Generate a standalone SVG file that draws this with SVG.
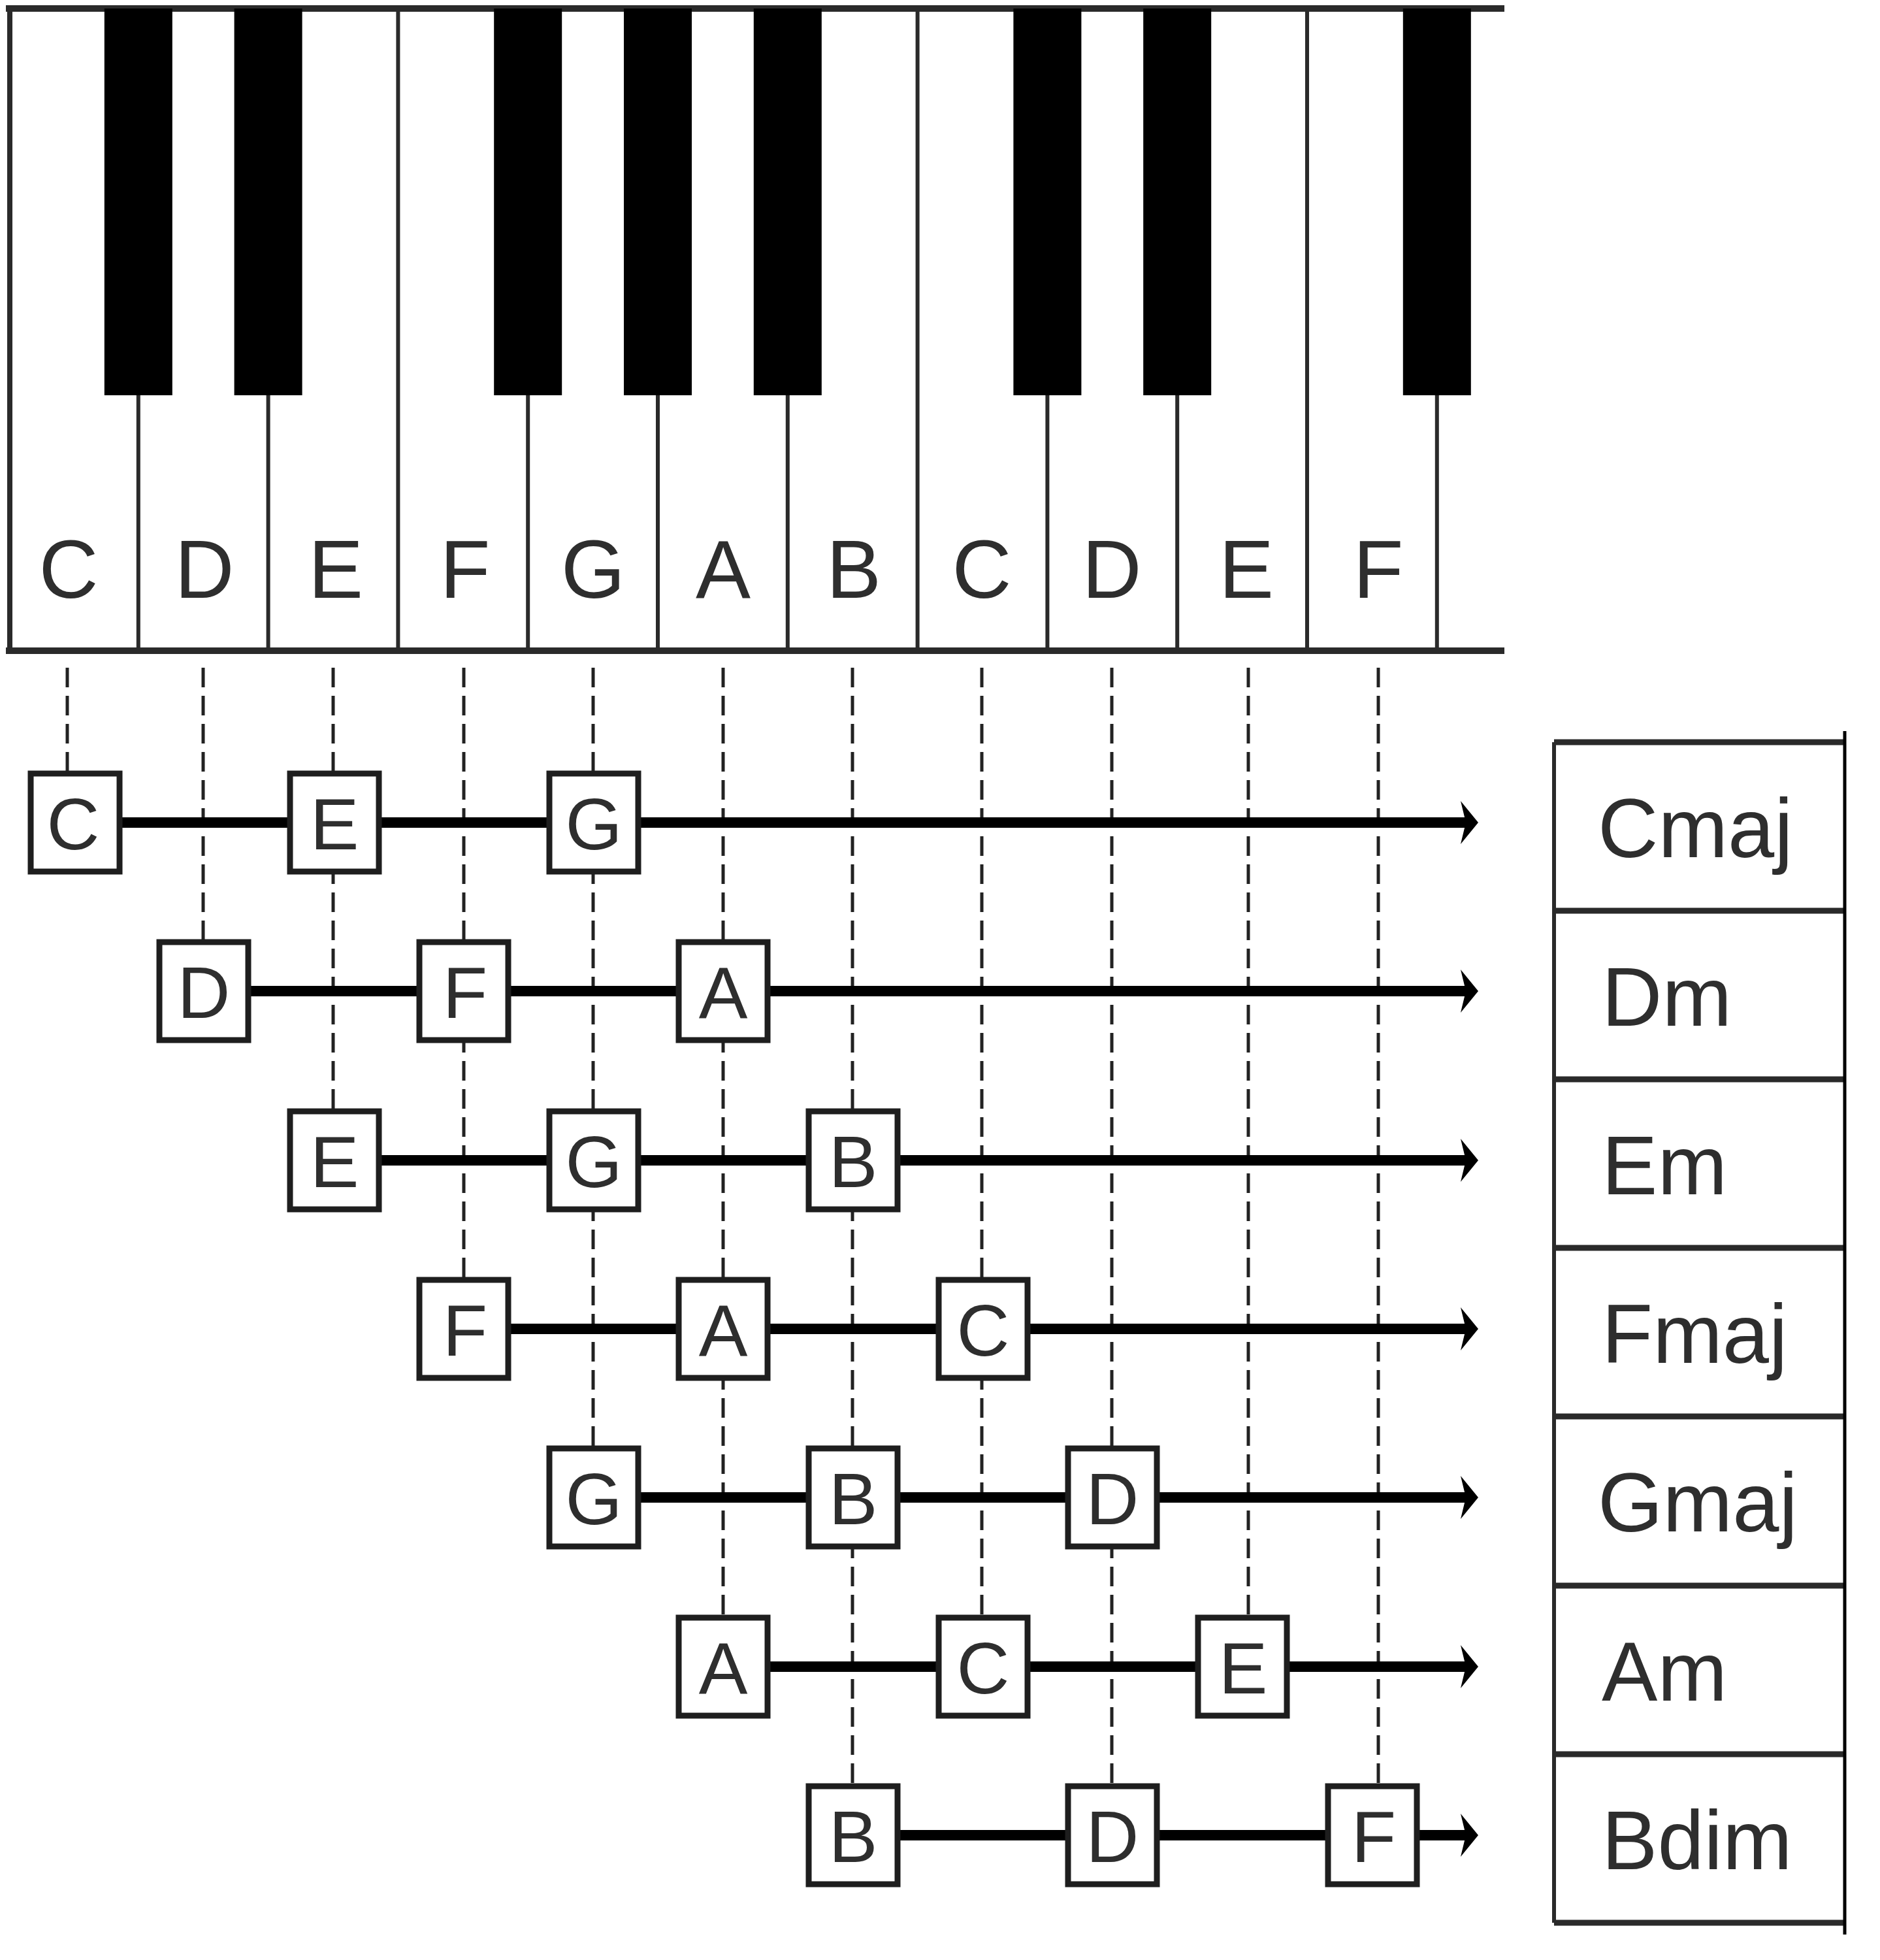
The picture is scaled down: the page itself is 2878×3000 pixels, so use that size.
<svg xmlns="http://www.w3.org/2000/svg" width="2878" height="3000" viewBox="0 0 2878 3000">
<style>
.bg{fill:#fff}
.frame{stroke:#2a2a2a;stroke-width:10;fill:none;stroke-linecap:square}
.div{stroke:#2a2a2a;stroke-width:6;fill:none}
.black{fill:#000}
.klbl{font-family:"Liberation Sans",Arial,sans-serif;font-size:126px;fill:#2e2e2e;text-anchor:middle}
.dash{stroke:#222;stroke-width:5;stroke-dasharray:30 13;fill:none}
.solid{stroke:#000;stroke-width:16;fill:none}
.head{fill:#000}
.box rect{fill:#fff;stroke:#1e1e1e;stroke-width:9}
.box text{font-family:"Liberation Sans",Arial,sans-serif;font-size:112px;fill:#2e2e2e;text-anchor:middle}
.hl{stroke:#2a2a2a;stroke-width:9;fill:none}
.cl{font-family:"Liberation Sans",Arial,sans-serif;font-size:128px;fill:#2e2e2e}
</style>
<rect class="bg" x="0" y="0" width="2878" height="3000"/>

<g id="keyboard">
  <line class="div" x1="211.8" y1="13" x2="211.8" y2="996"/>
  <line class="div" x1="410.6" y1="13" x2="410.6" y2="996"/>
  <line class="div" x1="609.4" y1="13" x2="609.4" y2="996"/>
  <line class="div" x1="808.2" y1="13" x2="808.2" y2="996"/>
  <line class="div" x1="1007" y1="13" x2="1007" y2="996"/>
  <line class="div" x1="1205.8" y1="13" x2="1205.8" y2="996"/>
  <line class="div" x1="1404.6" y1="13" x2="1404.6" y2="996"/>
  <line class="div" x1="1603.4" y1="13" x2="1603.4" y2="996"/>
  <line class="div" x1="1802.2" y1="13" x2="1802.2" y2="996"/>
  <line class="div" x1="2001" y1="13" x2="2001" y2="996"/>
  <line class="div" x1="2199.8" y1="13" x2="2199.8" y2="996"/>
  <line class="frame" x1="14" y1="13" x2="2298" y2="13"/>
  <line class="frame" x1="14" y1="996" x2="2298" y2="996"/>
  <line class="div" x1="15" y1="13" x2="15" y2="996" style="stroke-width:8"/>
  <rect class="black" x="159.8" y="13" width="104" height="592"/>
  <rect class="black" x="358.6" y="13" width="104" height="592"/>
  <rect class="black" x="756.2" y="13" width="104" height="592"/>
  <rect class="black" x="955" y="13" width="104" height="592"/>
  <rect class="black" x="1153.8" y="13" width="104" height="592"/>
  <rect class="black" x="1551.4" y="13" width="104" height="592"/>
  <rect class="black" x="1750.2" y="13" width="104" height="592"/>
  <rect class="black" x="2147.8" y="13" width="104" height="592"/>
  <text class="klbl" x="105" y="915">C</text>
  <text class="klbl" x="313" y="915">D</text>
  <text class="klbl" x="514" y="915">E</text>
  <text class="klbl" x="712" y="915">F</text>
  <text class="klbl" x="908" y="915">G</text>
  <text class="klbl" x="1107" y="915">A</text>
  <text class="klbl" x="1307" y="915">B</text>
  <text class="klbl" x="1503" y="915">C</text>
  <text class="klbl" x="1702" y="915">D</text>
  <text class="klbl" x="1908" y="915">E</text>
  <text class="klbl" x="2110" y="915">F</text>
</g>

<g id="connectors">
  <line class="dash" x1="103" y1="1022" x2="103" y2="1180"/>
  <line class="dash" x1="311" y1="1022" x2="311" y2="1438"/>
  <line class="dash" x1="510" y1="1022" x2="510" y2="1697"/>
  <line class="dash" x1="710" y1="1022" x2="710" y2="1955"/>
  <line class="dash" x1="908" y1="1022" x2="908" y2="2213"/>
  <line class="dash" x1="1107" y1="1022" x2="1107" y2="2472"/>
  <line class="dash" x1="1305" y1="1022" x2="1305" y2="2730"/>
  <line class="dash" x1="1503" y1="1022" x2="1503" y2="2472"/>
  <line class="dash" x1="1702" y1="1022" x2="1702" y2="2730"/>
  <line class="dash" x1="1911" y1="1022" x2="1911" y2="2472"/>
  <line class="dash" x1="2110" y1="1022" x2="2110" y2="2730"/>

  <line class="solid" x1="115" y1="1259" x2="2246" y2="1259"/>
  <polygon class="head" points="2236,1226 2263,1259 2236,1292 2244,1259"/>
  <line class="solid" x1="312" y1="1517" x2="2246" y2="1517"/>
  <polygon class="head" points="2236,1484 2263,1517 2236,1550 2244,1517"/>
  <line class="solid" x1="512" y1="1776" x2="2246" y2="1776"/>
  <polygon class="head" points="2236,1743 2263,1776 2236,1809 2244,1776"/>
  <line class="solid" x1="710" y1="2034" x2="2246" y2="2034"/>
  <polygon class="head" points="2236,2001 2263,2034 2236,2067 2244,2034"/>
  <line class="solid" x1="909" y1="2292" x2="2246" y2="2292"/>
  <polygon class="head" points="2236,2259 2263,2292 2236,2325 2244,2292"/>
  <line class="solid" x1="1107" y1="2551" x2="2246" y2="2551"/>
  <polygon class="head" points="2236,2518 2263,2551 2236,2584 2244,2551"/>
  <line class="solid" x1="1306" y1="2809" x2="2246" y2="2809"/>
  <polygon class="head" points="2236,2776 2263,2809 2236,2842 2244,2809"/>
</g>

<g id="row-cmaj">
  <g id="n-0-C" class="box"><rect x="47" y="1184" width="136" height="150"/><text x="112" y="1300">C</text></g>
  <g id="n-0-E" class="box"><rect x="444" y="1184" width="136" height="150"/><text x="512" y="1300">E</text></g>
  <g id="n-0-G" class="box"><rect x="841" y="1184" width="136" height="150"/><text x="909" y="1300">G</text></g>
</g>
<g id="row-dm">
  <g id="n-1-D" class="box"><rect x="244" y="1442" width="136" height="150"/><text x="312" y="1558">D</text></g>
  <g id="n-1-F" class="box"><rect x="642" y="1442" width="136" height="150"/><text x="712" y="1558">F</text></g>
  <g id="n-1-A" class="box"><rect x="1039" y="1442" width="136" height="150"/><text x="1107" y="1558">A</text></g>
</g>
<g id="row-em">
  <g id="n-2-E" class="box"><rect x="444" y="1701" width="136" height="150"/><text x="512" y="1817">E</text></g>
  <g id="n-2-G" class="box"><rect x="841" y="1701" width="136" height="150"/><text x="909" y="1817">G</text></g>
  <g id="n-2-B" class="box"><rect x="1238" y="1701" width="136" height="150"/><text x="1306" y="1817">B</text></g>
</g>
<g id="row-fmaj">
  <g id="n-3-F" class="box"><rect x="642" y="1959" width="136" height="150"/><text x="712" y="2075">F</text></g>
  <g id="n-3-A" class="box"><rect x="1039" y="1959" width="136" height="150"/><text x="1107" y="2075">A</text></g>
  <g id="n-3-C" class="box"><rect x="1437" y="1959" width="136" height="150"/><text x="1505" y="2075">C</text></g>
</g>
<g id="row-gmaj">
  <g id="n-4-G" class="box"><rect x="841" y="2217" width="136" height="150"/><text x="909" y="2333">G</text></g>
  <g id="n-4-B" class="box"><rect x="1238" y="2217" width="136" height="150"/><text x="1306" y="2333">B</text></g>
  <g id="n-4-D" class="box"><rect x="1635" y="2217" width="136" height="150"/><text x="1703" y="2333">D</text></g>
</g>
<g id="row-am">
  <g id="n-5-A" class="box"><rect x="1039" y="2476" width="136" height="150"/><text x="1107" y="2592">A</text></g>
  <g id="n-5-C" class="box"><rect x="1437" y="2476" width="136" height="150"/><text x="1505" y="2592">C</text></g>
  <g id="n-5-E" class="box"><rect x="1834" y="2476" width="136" height="150"/><text x="1903" y="2592">E</text></g>
</g>
<g id="row-bdim">
  <g id="n-6-B" class="box"><rect x="1238" y="2734" width="136" height="150"/><text x="1306" y="2850">B</text></g>
  <g id="n-6-D" class="box"><rect x="1635" y="2734" width="136" height="150"/><text x="1703" y="2850">D</text></g>
  <g id="n-6-F" class="box"><rect x="2033" y="2734" width="136" height="150"/><text x="2103" y="2850">F</text></g>
</g>

<g id="chord-table">
  <line class="div" x1="2379" y1="1136" x2="2379" y2="2943"/>
  <line class="hl" x1="2379" y1="1136" x2="2822" y2="1136"/>
  <line class="hl" x1="2379" y1="1394" x2="2822" y2="1394"/>
  <line class="hl" x1="2379" y1="1652" x2="2822" y2="1652"/>
  <line class="hl" x1="2379" y1="1910" x2="2822" y2="1910"/>
  <line class="hl" x1="2379" y1="2168" x2="2822" y2="2168"/>
  <line class="hl" x1="2379" y1="2427" x2="2822" y2="2427"/>
  <line class="hl" x1="2379" y1="2685" x2="2822" y2="2685"/>
  <line class="hl" x1="2379" y1="2943" x2="2822" y2="2943"/>
  <line x1="2824" y1="1119" x2="2824" y2="2961" style="stroke:#000;stroke-width:5"/>
  <g id="chord-cmaj"><text class="cl" x="2446" y="1312">Cmaj</text></g>
  <g id="chord-dm"><text class="cl" x="2452" y="1570">Dm</text></g>
  <g id="chord-em"><text class="cl" x="2452" y="1828">Em</text></g>
  <g id="chord-fmaj"><text class="cl" x="2452" y="2086">Fmaj</text></g>
  <g id="chord-gmaj"><text class="cl" x="2446" y="2344">Gmaj</text></g>
  <g id="chord-am"><text class="cl" x="2452" y="2603">Am</text></g>
  <g id="chord-bdim"><text class="cl" x="2452" y="2861">Bdim</text></g>
</g>
</svg>
